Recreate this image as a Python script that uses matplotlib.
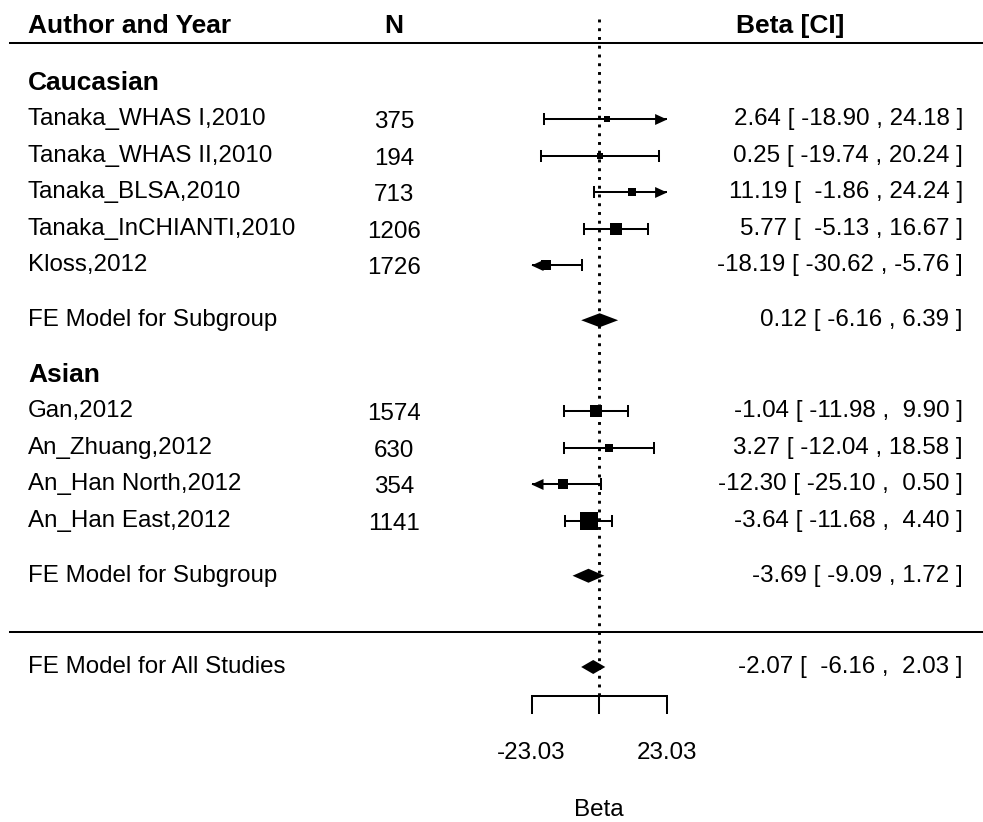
import matplotlib.pyplot as plt
import numpy as np

plt.rcParams['font.family'] = ['Liberation Sans', 'DejaVu Sans']

# data
authors = ['Tanaka_WHAS I,2010', 'Tanaka_WHAS II,2010', 'Tanaka_BLSA,2010',
           'Tanaka_InCHIANTI,2010', 'Kloss,2012',
           'Gan,2012', 'An_Zhuang,2012', 'An_Han North,2012', 'An_Han East,2012']
n_sizes = [375, 194, 713, 1206, 1726, 1574, 630, 354, 1141]
beta = [2.64, 0.25, 11.19, 5.77, -18.19, -1.04, 3.27, -12.30, -3.64]
ci_low = [-18.90, -19.74, -1.86, -5.13, -30.62, -11.98, -12.04, -25.10, -11.68]
ci_high = [24.18, 20.24, 24.24, 16.67, -5.76, 9.90, 18.58, 0.50, 4.40]

groups = ['Caucasian', 'Asian']
sub_beta = [0.12, -3.69]
sub_low = [-6.16, -9.09]
sub_high = [6.39, 1.72]

all_beta = -2.07
all_low = -6.16
all_high = 2.03

lim = 23.03

# layout (rows, from bottom)
study_rows = [15, 14, 13, 12, 11, 7, 6, 5, 4]
group_rows = [16, 8]
sub_rows = [9.5, 2.5]
all_row = 0
FS = 17.4
FSB = 19
lw = 1.45

fig = plt.figure(figsize=(9.83, 8.22), dpi=100)
ax = fig.add_axes([0, 0, 1, 1])
ax.set_xlim(-203.57, 130.33)
ax.set_ylim(-4.247, 18.274)
ax.axis('off')

# px -> data
px = 1 / 2.944
py = 1 / 36.5

# headers
ax.text(-194.1, 17.56, 'Author and Year', fontsize=FSB, fontweight='bold', va='center')
ax.text(-69.7, 17.56, 'N', fontsize=FSB, fontweight='bold', va='center', ha='center')
ax.text(64.8, 17.56, 'Beta [CI]', fontsize=FSB, fontweight='bold', va='center', ha='center')
ax.plot([-200.2, 131], [17.1, 17.1], color='black', lw=lw)
ax.plot([-200.2, 131], [0.96, 0.96], color='black', lw=lw)

# reference line
ax.plot([0, 0], [17.75, -0.79], color='black', lw=2.1, dashes=(1, 2),
        dash_capstyle='butt')

# annotation widths like metafor
wl = max(len(f'{v:.2f}') for v in ci_low + [all_low])
wu = max(len(f'{v:.2f}') for v in ci_high + [all_high])

# weights for square size
w = 1 / ((np.array(ci_high) - np.array(ci_low)) / 3.92) ** 2
psize = 0.5 + (w - w.min()) / (w.max() - w.min())

cap = 5 * py
ah_len = 12 * px
ah_h = 5.5 * py

for i, r in enumerate(study_rows):
    lo = max(ci_low[i], -lim)
    hi = min(ci_high[i], lim)
    ax.plot([lo, hi], [r, r], color='black', lw=lw, solid_capstyle='butt')
    if ci_low[i] < -lim:
        ax.fill([-lim, -lim + ah_len, -lim + ah_len], [r, r + ah_h, r - ah_h],
                color='black', lw=0)
    else:
        ax.plot([lo, lo], [r - cap, r + cap], color='black', lw=lw)
    if ci_high[i] > lim:
        ax.fill([lim, lim - ah_len, lim - ah_len], [r, r + ah_h, r - ah_h],
                color='black', lw=0)
    else:
        ax.plot([hi, hi], [r - cap, r + cap], color='black', lw=lw)
    ax.plot(beta[i], r, marker='s', color='black', ms=psize[i] * 11.4 * 0.72,
            mew=0)
    ax.text(-194.1, r, authors[i], fontsize=FS, va='center')
    ax.text(-69.7, r - 0.07, str(n_sizes[i]), fontsize=FS, va='center', ha='center')
    ax.text(123.5, r, f'{beta[i]:.2f} [ {ci_low[i]:>{wl}.2f} , {ci_high[i]:>{wu}.2f} ]',
            fontsize=FS, va='center', ha='right')

dh = 7 * py
for g, r, rs, b, lo, hi in zip(groups, group_rows, sub_rows, sub_beta, sub_low, sub_high):
    ax.text(-194.1, r, g, fontsize=FSB, fontweight='bold', va='center')
    ax.fill([lo, b, hi, b], [rs, rs + dh, rs, rs - dh], color='black', lw=0)
    ax.text(-194.1, rs, 'FE Model for Subgroup', fontsize=FS, va='center')
    ax.text(123.5, rs, f'{b:.2f} [ {lo:.2f} , {hi:.2f} ]', fontsize=FS,
            va='center', ha='right')

ax.fill([all_low, all_beta, all_high, all_beta],
        [all_row, all_row + dh, all_row, all_row - dh], color='black', lw=0)
ax.text(-194.1, all_row, 'FE Model for All Studies', fontsize=FS, va='center')
ax.text(123.5, all_row, f'{all_beta:.2f} [ {all_low:>{wl}.2f} , {all_high:>{wu}.2f} ]',
        fontsize=FS, va='center', ha='right')

# x axis
ticks = [-lim, 0, lim]
ax.plot([-lim, lim], [-0.79, -0.79], color='black', lw=lw, solid_capstyle='butt')
for t in ticks:
    ax.plot([t, t], [-0.79, -1.26], color='black', lw=lw)
for t in [-lim, lim]:
    ax.text(t, -2.36, f'{t:.2f}', fontsize=FS, ha='center', va='center')
ax.text(0, -3.92, 'Beta', fontsize=FS, ha='center', va='center')

fig.savefig('out.png', dpi=100)
